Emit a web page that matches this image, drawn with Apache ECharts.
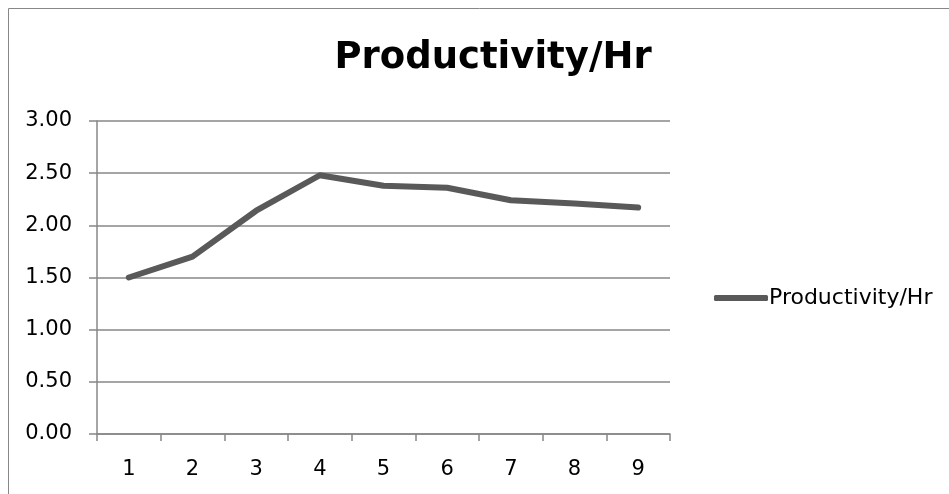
<!DOCTYPE html>
<html>
<head>
<meta charset="utf-8">
<script src="https://cdn.jsdelivr.net/npm/echarts@6/dist/echarts.min.js"></script>
<style>
  html, body { margin: 0; padding: 0; background: #fff; }
  #chart { width: 949px; height: 494px; }
</style>
</head>
<body>
<div id="chart"></div>
<script>
// Productivity per hour over nine periods
const categories = ['1', '2', '3', '4', '5', '6', '7', '8', '9'];
const productivity = [1.50, 1.70, 2.14, 2.48, 2.38, 2.36, 2.24, 2.21, 2.17];
const seriesName = 'Productivity/Hr';
const yTicks = { min: 0, max: 3, interval: 0.5 };

const FONT = '"DejaVu Sans", sans-serif';
const AXIS_GRAY = '#878787';
const chart = echarts.init(document.getElementById('chart'), null, { renderer: 'canvas' });

chart.setOption({
  backgroundColor: '#ffffff',
  animation: false,
  title: {
    text: seriesName,
    left: 488,
    top: 35,
    textAlign: 'center',
    textStyle: { fontFamily: FONT, fontWeight: 'bold', fontSize: 37, color: '#000' }
  },
  graphic: [{
    type: 'rect',
    shape: { x: 8.5, y: 8.5, width: 960, height: 500 },
    style: { fill: 'none', stroke: AXIS_GRAY, lineWidth: 1 },
    silent: true
  }],
  legend: {
    left: 709,
    top: 282,
    icon: 'roundRect',
    itemWidth: 54,
    itemHeight: 6,
    itemGap: 0,
    textStyle: { fontFamily: FONT, fontSize: 22, color: '#000', padding: [0, 0, 0, -4] },
    data: [seriesName]
  },
  grid: { left: 97, right: 279, top: 121, bottom: 60, containLabel: false },
  xAxis: {
    type: 'category',
    data: categories,
    boundaryGap: true,
    axisLine: { lineStyle: { color: AXIS_GRAY, width: 1.5 } },
    axisTick: { show: true, length: 7, lineStyle: { color: AXIS_GRAY, width: 1.5 } },
    axisLabel: { fontFamily: FONT, fontSize: 21, color: '#000', margin: 25 },
    splitLine: { show: false }
  },
  yAxis: {
    type: 'value',
    min: yTicks.min,
    max: yTicks.max,
    interval: yTicks.interval,
    axisLine: { show: true, lineStyle: { color: AXIS_GRAY, width: 1.5 } },
    axisTick: { show: true, length: 8, lineStyle: { color: AXIS_GRAY, width: 1.5 } },
    axisLabel: {
      fontFamily: FONT, fontSize: 21, color: '#000', margin: 25,
      formatter: v => v.toFixed(2)
    },
    splitLine: { show: true, lineStyle: { color: AXIS_GRAY, width: 1.5 } }
  },
  series: [{
    name: seriesName,
    type: 'line',
    data: productivity,
    symbol: 'none',
    lineStyle: { color: '#595959', width: 6, cap: 'round', join: 'round' },
    itemStyle: { color: '#595959' }
  }]
});
</script>
</body>
</html>
